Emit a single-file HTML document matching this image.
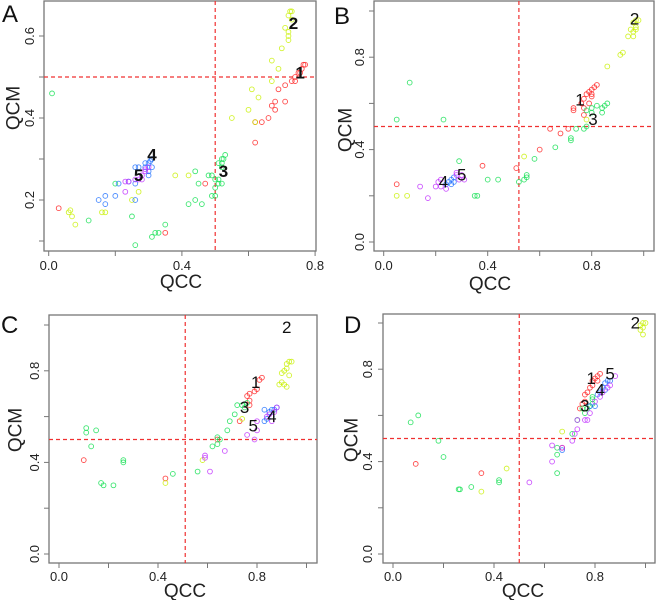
<!DOCTYPE html>
<html><head><meta charset="utf-8">
<style>
html,body{margin:0;padding:0;background:#fff;}
svg{display:block;font-family:"Liberation Sans",sans-serif;}
</style></head>
<body>
<svg id="fig" width="657" height="600" viewBox="0 0 657 600" xmlns="http://www.w3.org/2000/svg"></svg>
<script>
// ---------- Data (QCC, QCM) per panel and cluster ----------
const seriesNames = ["1","2","3","4","5"];
const seriesColors = ["#ff2020","#c8f000","#10e050","#2070ff","#c030ff"];

// Panel A
const A_x1 = [0.77,0.76,0.75,0.74,0.74,0.73,0.71,0.69,0.68,0.71,0.67,0.68,0.66,0.64,0.62,0.62,0.47,0.35,0.03,0.765,0.755];
const A_y1 = [0.53,0.52,0.51,0.50,0.49,0.49,0.48,0.47,0.44,0.44,0.43,0.42,0.40,0.39,0.39,0.34,0.24,0.12,0.18,0.53,0.51];
const A_x2 = [0.73,0.72,0.73,0.71,0.72,0.72,0.72,0.70,0.67,0.69,0.67,0.61,0.63,0.60,0.62,0.55,0.38,0.42,0.27,0.25,0.16,0.17,0.06,0.065,0.07,0.08,0.725];
const A_y2 = [0.66,0.65,0.64,0.62,0.61,0.60,0.59,0.57,0.54,0.52,0.49,0.47,0.45,0.42,0.39,0.40,0.26,0.26,0.22,0.20,0.17,0.17,0.17,0.175,0.16,0.14,0.66];
const A_x3 = [0.53,0.52,0.52,0.51,0.52,0.51,0.51,0.52,0.50,0.49,0.48,0.44,0.45,0.50,0.44,0.42,0.46,0.49,0.50,0.20,0.12,0.25,0.26,0.32,0.33,0.31,0.35,0.01,0.525];
const A_y3 = [0.31,0.30,0.29,0.29,0.28,0.25,0.24,0.24,0.25,0.26,0.26,0.27,0.24,0.23,0.20,0.19,0.19,0.21,0.21,0.24,0.15,0.16,0.09,0.12,0.12,0.11,0.14,0.46,0.30];
const A_x4 = [0.31,0.30,0.31,0.29,0.29,0.30,0.27,0.26,0.30,0.26,0.24,0.21,0.20,0.17,0.15,0.17,0.26,0.305];
const A_y4 = [0.30,0.29,0.28,0.29,0.28,0.27,0.28,0.28,0.26,0.24,0.245,0.24,0.21,0.21,0.20,0.19,0.20,0.295];
const A_x5 = [0.30,0.29,0.28,0.29,0.27,0.26,0.24,0.23,0.23,0.28];
const A_y5 = [0.28,0.27,0.26,0.275,0.25,0.25,0.245,0.245,0.22,0.25];

// Panel B
const B_x1 = [0.82,0.81,0.80,0.79,0.78,0.80,0.77,0.76,0.77,0.73,0.73,0.79,0.77,0.71,0.68,0.64,0.60,0.51,0.38,0.05,0.80];
const B_y1 = [0.68,0.67,0.66,0.65,0.64,0.64,0.62,0.60,0.58,0.58,0.57,0.60,0.55,0.49,0.47,0.49,0.40,0.32,0.33,0.25,0.63];
const B_x2 = [0.98,0.97,0.96,0.97,0.95,0.96,0.97,0.94,0.96,0.92,0.91,0.86,0.78,0.54,0.05,0.09];
const B_y2 = [0.96,0.96,0.95,0.93,0.92,0.91,0.92,0.89,0.89,0.82,0.81,0.76,0.53,0.37,0.20,0.20];
const B_x3 = [0.86,0.85,0.84,0.84,0.82,0.80,0.78,0.80,0.78,0.77,0.74,0.72,0.72,0.66,0.58,0.55,0.55,0.54,0.52,0.44,0.40,0.35,0.36,0.29,0.23,0.10,0.05];
const B_y3 = [0.60,0.59,0.58,0.56,0.59,0.58,0.57,0.56,0.50,0.49,0.49,0.45,0.44,0.41,0.36,0.29,0.28,0.27,0.26,0.27,0.27,0.20,0.20,0.35,0.53,0.69,0.53];
const B_x4 = [0.25,0.26,0.27,0.27,0.24,0.26];
const B_y4 = [0.26,0.27,0.28,0.26,0.25,0.25];
const B_x5 = [0.30,0.28,0.29,0.31,0.22,0.21,0.20,0.22,0.24,0.14,0.17,0.28];
const B_y5 = [0.29,0.29,0.27,0.27,0.27,0.26,0.24,0.24,0.23,0.24,0.19,0.30];

// Panel C
const C_x1 = [0.82,0.81,0.80,0.79,0.77,0.76,0.77,0.77,0.73,0.64,0.43,0.10];
const C_y1 = [0.77,0.76,0.72,0.71,0.70,0.69,0.67,0.65,0.58,0.50,0.33,0.41];
const C_x2 = [0.94,0.93,0.92,0.92,0.91,0.90,0.93,0.90,0.91,0.92,0.89,0.74,0.58,0.43];
const C_y2 = [0.84,0.84,0.83,0.81,0.80,0.79,0.78,0.75,0.74,0.73,0.74,0.59,0.41,0.31];
const C_x3 = [0.76,0.75,0.74,0.72,0.71,0.69,0.68,0.64,0.65,0.64,0.62,0.56,0.46,0.26,0.26,0.22,0.18,0.17,0.13,0.11,0.11,0.15];
const C_y3 = [0.66,0.64,0.65,0.65,0.61,0.58,0.54,0.51,0.50,0.48,0.47,0.36,0.35,0.41,0.40,0.30,0.30,0.31,0.47,0.55,0.53,0.54];
const C_x4 = [0.88,0.87,0.86,0.85,0.83,0.86,0.84,0.83];
const C_y4 = [0.64,0.63,0.63,0.62,0.63,0.60,0.59,0.58];
const C_x5 = [0.88,0.87,0.85,0.84,0.86,0.80,0.80,0.79,0.76,0.67,0.61,0.59,0.59];
const C_y5 = [0.64,0.62,0.61,0.60,0.58,0.58,0.54,0.50,0.52,0.45,0.36,0.43,0.42];

// Panel D
const D_x1 = [0.82,0.81,0.80,0.79,0.81,0.79,0.78,0.77,0.76,0.76,0.75,0.74,0.67,0.35,0.09];
const D_y1 = [0.78,0.77,0.76,0.75,0.75,0.73,0.72,0.70,0.69,0.66,0.65,0.63,0.46,0.35,0.39];
const D_x2 = [1.00,0.99,0.98,0.99,0.98,0.99,0.67,0.45,0.35];
const D_y2 = [1.00,1.00,0.99,0.98,0.97,0.95,0.53,0.37,0.27];
const D_x3 = [0.79,0.79,0.79,0.78,0.77,0.75,0.76,0.73,0.71,0.65,0.65,0.65,0.42,0.42,0.31,0.26,0.265,0.20,0.18,0.07,0.10];
const D_y3 = [0.68,0.67,0.65,0.64,0.63,0.63,0.61,0.58,0.52,0.46,0.43,0.35,0.32,0.31,0.29,0.28,0.28,0.42,0.49,0.57,0.60];
const D_x4 = [0.86,0.85,0.84,0.83,0.84,0.82,0.81,0.80,0.78,0.67];
const D_y4 = [0.75,0.75,0.74,0.72,0.71,0.70,0.69,0.64,0.64,0.45];
const D_x5 = [0.88,0.86,0.85,0.83,0.82,0.80,0.78,0.76,0.77,0.73,0.73,0.72,0.71,0.63,0.63,0.54,0.67];
const D_y5 = [0.77,0.73,0.72,0.70,0.68,0.66,0.61,0.58,0.58,0.58,0.54,0.52,0.49,0.47,0.40,0.31,0.46];

// Cluster label anchor positions (data coords)
const A_labX = [0.755,0.735,0.525,0.31,0.27], A_labY = [0.51,0.63,0.27,0.31,0.26];
const B_labX = [0.755,0.965,0.805,0.23,0.30], B_labY = [0.615,0.965,0.53,0.26,0.29];
const C_labX = [0.795,0.92,0.75,0.86,0.785], C_labY = [0.75,0.99,0.64,0.60,0.56];
const D_labX = [0.785,0.96,0.76,0.82,0.86], D_labY = [0.76,1.00,0.64,0.71,0.78];

// Tick values
const xTicks = [0,0.2,0.4,0.6,0.8,1.0];
const xTickLabels = ["0.0","","0.4","","0.8",""];
const yTicksA = [0.1,0.2,0.3,0.4,0.5,0.6];
const yTickLabelsA = ["","0.2","","0.4","","0.6"];
const yTicks = [0,0.2,0.4,0.6,0.8,1.0];
const yTickLabels = ["0.0","","0.4","","0.8",""];
const vlineVals = [0.5,0.52,0.51,0.5];
const hlineVals = [0.5,0.5,0.5,0.5];

// ---------- Layout ----------
const NS="http://www.w3.org/2000/svg";
const svg=document.getElementById('fig');
function mk(tag,attrs,parent){const e=document.createElementNS(NS,tag);for(const k in attrs)e.setAttribute(k,attrs[k]);(parent||svg).appendChild(e);return e;}

const panels=[
 {id:"a",letter:"A",box:[44,1,316,251],x0:48.7,xs:333,y0:282,ys:410,ylab:[yTicksA,yTickLabelsA],
  xs_:[A_x1,A_x2,A_x3,A_x4,A_x5],ys_:[A_y1,A_y2,A_y3,A_y4,A_y5],labX:A_labX,labY:A_labY,bold:true,
  letterPos:[2,22],qcm:[14,108],qcc:[181,288],xtickY:270,ytickX:34},
 {id:"b",letter:"B",box:[374,1,654,251],x0:383.7,xs:260,y0:242,ys:231,ylab:[yTicks,yTickLabels],
  xs_:[B_x1,B_x2,B_x3,B_x4,B_x5],ys_:[B_y1,B_y2,B_y3,B_y4,B_y5],labX:B_labX,labY:B_labY,bold:false,
  letterPos:[334,24],qcm:[346,130],qcc:[490,290],xtickY:270,ytickX:364},
 {id:"c",letter:"C",box:[49,315,317,563],x0:59,xs:247.5,y0:554,ys:229,ylab:[yTicks,yTickLabels],
  xs_:[C_x1,C_x2,C_x3,C_x4,C_x5],ys_:[C_y1,C_y2,C_y3,C_y4,C_y5],labX:C_labX,labY:C_labY,bold:false,
  letterPos:[1,333],qcm:[16,430],qcc:[185,597],xtickY:581,ytickX:39},
 {id:"d",letter:"D",box:[383,314,655,563],x0:393,xs:252.5,y0:554,ys:231,ylab:[yTicks,yTickLabels],
  xs_:[D_x1,D_x2,D_x3,D_x4,D_x5],ys_:[D_y1,D_y2,D_y3,D_y4,D_y5],labX:D_labX,labY:D_labY,bold:false,
  letterPos:[344,333],qcm:[352,440],qcc:[523,597],xtickY:581,ytickX:372}
];

panels.forEach((p,pi)=>{
  const g=mk('g',{});
  
  
  const sx=v=>p.x0+v*p.xs, sy=v=>p.y0-v*p.ys;
  const [bx0,by0,bx1,by1]=p.box;
  const box=mk('rect',{x:bx0,y:by0,width:bx1-bx0,height:by1-by0,fill:'#fff',stroke:'#777','stroke-width':1.3},g);
  
  
  // x ticks
  const xa=mk('g',{},g);
  
  
  xTicks.forEach((t,i)=>{const x=sx(t); if(x<bx0-1||x>bx1+1)return;
    mk('line',{x1:x,x2:x,y1:by1,y2:by1+5,stroke:'#777','stroke-width':1},xa);
    if(xTickLabels[i]){const tx=mk('text',{x:x,y:p.xtickY,'text-anchor':'middle','font-size':13,fill:'#222'},xa);tx.textContent=xTickLabels[i];
      
      }
  });
  // y ticks
  const ya=mk('g',{},g);
  
  
  const [yt,yl]=p.ylab;
  yt.forEach((t,i)=>{const y=sy(t); if(y<by0-1||y>by1+1)return;
    mk('line',{x1:bx0-5,x2:bx0,y1:y,y2:y,stroke:'#777','stroke-width':1},ya);
    if(yl[i]){const tx=mk('text',{x:p.ytickX,y:y,'text-anchor':'middle','font-size':13,fill:'#222',transform:`rotate(-90 ${p.ytickX} ${y})`},ya);tx.textContent=yl[i];
      
      }
  });
  // titles
  const qc=mk('text',{x:p.qcc[0],y:p.qcc[1],'text-anchor':'middle','font-size':19,fill:'#222'},g);qc.textContent='QCC';
  
  
  const qm=mk('text',{x:p.qcm[0],y:p.qcm[1],'text-anchor':'middle','font-size':19,fill:'#222',transform:`rotate(-90 ${p.qcm[0]} ${p.qcm[1]})`,'dominant-baseline':'central'},g);qm.textContent='QCM';
  
  
  const lt=mk('text',{x:p.letterPos[0],y:p.letterPos[1],'font-size':24,fill:'#111'},g);lt.textContent=p.letter;
  
  
  // reference lines
  const vx=sx(vlineVals[pi]), hy=sy(hlineVals[pi]);
  const vl=mk('line',{x1:vx,x2:vx,y1:by0,y2:by1,stroke:'#f03030','stroke-width':1.2,'stroke-dasharray':'4,3'},g);
  
  
  const hl=mk('line',{x1:bx0,x2:bx1,y1:hy,y2:hy,stroke:'#f03030','stroke-width':1.2,'stroke-dasharray':'4,3'},g);
  
  
  // points
  p.xs_.forEach((xs,si)=>{
    const sg=mk('g',{},g);
    
    
    xs.forEach((xv,k)=>{
      const c=mk('circle',{cx:sx(xv),cy:sy(p.ys_[si][k]),r:2.4,fill:'none',stroke:seriesColors[si],'stroke-width':0.9,'stroke-opacity':0.8},sg);
      
      
    });
  });
  // cluster labels
  seriesNames.forEach((n,si)=>{
    const t=mk('text',{x:sx(p.labX[si]),y:sy(p.labY[si]),'text-anchor':'middle','dominant-baseline':'central','font-size':17,'font-weight':p.bold?'bold':'normal',fill:'#111'},g);
    t.textContent=n;
    
    
  });
});
</script>
</body></html>
